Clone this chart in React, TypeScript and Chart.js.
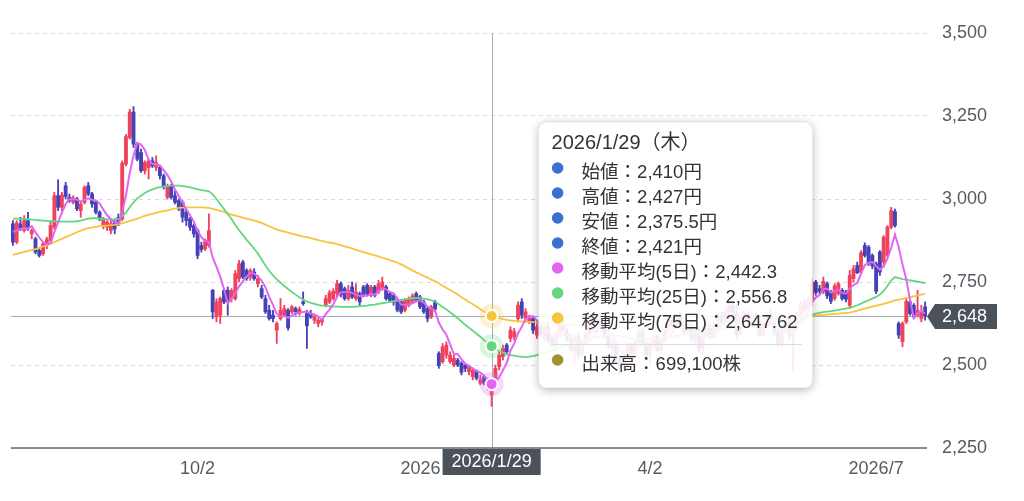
import React, { useEffect, useRef } from "react";
import { Chart, registerables } from "chart.js";

Chart.register(...registerables);

// Trading days (Tokyo market calendar) shown on the category axis
const tradingDays: [string, number[]][] = [
  ["2025/7", [22, 23, 24, 25, 28, 29, 30, 31]],
  ["2025/8", [1, 4, 5, 6, 7, 8, 12, 13, 14, 15, 18, 19, 20, 21, 22, 25, 26, 27, 28, 29]],
  ["2025/9", [1, 2, 3, 4, 5, 8, 9, 10, 11, 12, 16, 17, 18, 19, 22, 24, 25, 26, 29, 30]],
  ["2025/10", [1, 2, 3, 6, 7, 8, 9, 10, 14, 15, 16, 17, 20, 21, 22, 23, 24, 27, 28, 29, 30, 31]],
  ["2025/11", [4, 5, 6, 7, 10, 11, 12, 13, 14, 17, 18, 19, 20, 21, 25, 26, 27, 28]],
  ["2025/12", [1, 2, 3, 4, 5, 8, 9, 10, 11, 12, 15, 16, 17, 18, 19, 22, 23, 24, 25, 26, 29, 30]],
  ["2026/1", [5, 6, 7, 8, 9, 13, 14, 15, 16, 19, 20, 21, 22, 23, 26, 27, 28, 29, 30]],
  ["2026/2", [2, 3, 4, 5, 6, 9, 10, 12, 13, 16, 17, 18, 19, 20, 24, 25, 26, 27]],
  ["2026/3", [2, 3, 4, 5, 6, 9, 10, 11, 12, 13, 16, 17, 18, 19, 23, 24, 25, 26, 27, 30, 31]],
  ["2026/4", [1, 2, 3, 6, 7, 8, 9, 10, 13, 14, 15, 16, 17, 20, 21, 22, 23, 24, 27, 28, 30]],
  ["2026/5", [1, 7, 8, 11, 12, 13, 14, 15, 18, 19, 20, 21, 22, 25, 26, 27, 28, 29]],
  ["2026/6", [1, 2, 3, 4, 5, 8, 9, 10, 11, 12, 15, 16, 17, 18, 19, 22, 23, 24, 25, 26, 29, 30]],
  ["2026/7", [1, 2, 3, 6, 7, 8, 9, 10, 13, 14, 15, 16, 17, 21]],
];
const dates: string[] = tradingDays.flatMap(([m, ds]) => ds.map((d) => `${m}/${d}`));

const openPrices = [
  2925, 2870, 2925, 2905, 2935, 2895, 2880, 2845, 2835, 2860,
  2875, 2915, 3010, 2975, 3040, 3005, 2990, 3000, 2965, 2990,
  3040, 3015, 2990, 2960, 2920, 2915, 2905, 2930, 2945, 2940,
  3105, 3185, 3262, 3165, 3140, 3085, 3095, 3115, 3095, 3095,
  3070, 3005, 3040, 3010, 2995, 2990, 2960, 2940, 2920, 2905,
  2860, 2850, 2860, 2725, 2645, 2650, 2725, 2725, 2700, 2700,
  2760, 2810, 2785, 2765, 2780, 2745, 2730, 2700, 2665, 2650,
  2605, 2640, 2650, 2665, 2660, 2670, 2655, 2690, 2655, 2655,
  2635, 2625, 2630, 2680, 2690, 2700, 2715, 2745, 2730, 2700,
  2735, 2700, 2715, 2735, 2740, 2710, 2735, 2720, 2730, 2735,
  2715, 2710, 2695, 2690, 2665, 2680, 2690, 2715, 2705, 2690,
  2670, 2645, 2690, 2535, 2510, 2530, 2510, 2500, 2515, 2505,
  2500, 2480, 2465, 2480, 2445, 2465, 2455, 2410, 2440, 2495,
  2525, 2560, 2580, 2585, 2640, 2690, 2640, 2630, 2640, 2590,
  2620, 2580, 2615, 2580, 2560, 2590, 2625, 2600, 2575, 2540,
  2585, 2530, 2565, 2595, 2630, 2605, 2640, 2610, 2585, 2550,
  2565, 2520, 2490, 2530, 2560, 2530, 2570, 2600, 2560, 2530,
  2560, 2585, 2545, 2575, 2610, 2635, 2615, 2650, 2625, 2600,
  2620, 2575, 2600, 2550, 2590, 2615, 2585, 2620, 2645, 2630,
  2660, 2680, 2655, 2595, 2630, 2655, 2625, 2650, 2615, 2590,
  2625, 2655, 2630, 2600, 2565, 2600, 2640, 2590, 2612, 2650,
  2685, 2670, 2690, 2750, 2730, 2720, 2745, 2720, 2700, 2715,
  2725, 2720, 2680, 2760, 2800, 2780, 2860, 2855, 2830, 2805,
  2840, 2810, 2830, 2915, 2962, 2625, 2570, 2630, 2690, 2680,
  2650, 2640, 2675,
];

const highPrices = [
  2935, 2935, 2945, 2950, 2960, 2910, 2885, 2850, 2870, 2885,
  2930, 3020, 3058, 3020, 3050, 3015, 3010, 3005, 2990, 3040,
  3050, 3020, 2995, 2965, 2945, 2935, 2935, 2940, 2955, 3115,
  3195, 3270, 3278, 3170, 3150, 3115, 3120, 3125, 3130, 3100,
  3075, 3045, 3045, 3025, 3000, 2995, 2970, 2945, 2925, 2910,
  2870, 2880, 2955, 2728, 2700, 2705, 2730, 2735, 2730, 2785,
  2815, 2815, 2790, 2790, 2790, 2770, 2740, 2710, 2680, 2665,
  2630, 2700, 2680, 2670, 2680, 2675, 2675, 2720, 2665, 2665,
  2650, 2640, 2640, 2710, 2725, 2730, 2755, 2750, 2735, 2740,
  2750, 2745, 2720, 2740, 2745, 2740, 2740, 2755, 2765, 2740,
  2720, 2715, 2700, 2695, 2700, 2705, 2715, 2720, 2710, 2695,
  2675, 2680, 2695, 2540, 2565, 2570, 2540, 2530, 2520, 2510,
  2505, 2500, 2490, 2485, 2470, 2470, 2460, 2427, 2500, 2540,
  2560, 2565, 2615, 2610, 2690, 2700, 2670, 2650, 2645, 2625,
  2630, 2620, 2625, 2590, 2600, 2630, 2640, 2610, 2585, 2590,
  2595, 2575, 2600, 2640, 2645, 2650, 2650, 2615, 2590, 2575,
  2570, 2530, 2540, 2570, 2565, 2575, 2605, 2610, 2570, 2570,
  2590, 2590, 2580, 2615, 2640, 2645, 2655, 2660, 2630, 2630,
  2625, 2610, 2610, 2595, 2625, 2620, 2630, 2655, 2660, 2670,
  2690, 2690, 2680, 2640, 2665, 2660, 2660, 2655, 2625, 2630,
  2660, 2665, 2640, 2610, 2610, 2645, 2648, 2620, 2660, 2690,
  2695, 2705, 2760, 2755, 2740, 2765, 2750, 2725, 2745, 2750,
  2730, 2725, 2785, 2800, 2810, 2845, 2868, 2860, 2835, 2810,
  2845, 2890, 2920, 2975, 2970, 2630, 2630, 2700, 2695, 2685,
  2725, 2680, 2690,
];

const lowPrices = [
  2860, 2865, 2905, 2900, 2905, 2880, 2835, 2825, 2830, 2850,
  2870, 2910, 2965, 2965, 3000, 2990, 2985, 2965, 2945, 2985,
  3010, 2975, 2955, 2935, 2910, 2905, 2895, 2895, 2920, 2935,
  3100, 3180, 3155, 3115, 3080, 3075, 3060, 3095, 3085, 3060,
  3030, 3000, 3000, 2985, 2965, 2930, 2920, 2905, 2885, 2820,
  2840, 2845, 2855, 2640, 2630, 2625, 2685, 2650, 2690, 2695,
  2750, 2760, 2755, 2755, 2755, 2735, 2700, 2655, 2635, 2630,
  2565, 2635, 2645, 2605, 2655, 2650, 2650, 2680, 2550, 2640,
  2625, 2615, 2620, 2675, 2685, 2695, 2705, 2705, 2695, 2695,
  2700, 2695, 2680, 2705, 2710, 2705, 2705, 2715, 2725, 2695,
  2690, 2680, 2660, 2655, 2660, 2675, 2685, 2690, 2670, 2655,
  2630, 2640, 2660, 2490, 2505, 2520, 2505, 2495, 2495, 2470,
  2480, 2470, 2455, 2455, 2440, 2440, 2425, 2375.5, 2430, 2485,
  2515, 2530, 2570, 2575, 2630, 2640, 2630, 2625, 2595, 2580,
  2585, 2570, 2565, 2555, 2550, 2585, 2600, 2570, 2540, 2510,
  2520, 2525, 2560, 2590, 2600, 2600, 2610, 2580, 2550, 2520,
  2510, 2470, 2480, 2525, 2520, 2525, 2565, 2560, 2520, 2500,
  2555, 2540, 2535, 2570, 2600, 2610, 2610, 2620, 2590, 2595,
  2570, 2560, 2540, 2530, 2585, 2580, 2580, 2615, 2620, 2625,
  2650, 2640, 2580, 2590, 2625, 2620, 2615, 2610, 2585, 2585,
  2620, 2625, 2590, 2555, 2555, 2595, 2580, 2480, 2605, 2645,
  2660, 2665, 2680, 2710, 2715, 2715, 2700, 2685, 2695, 2710,
  2695, 2690, 2670, 2750, 2775, 2775, 2825, 2800, 2790, 2715,
  2770, 2795, 2825, 2910, 2915, 2580, 2555, 2625, 2650, 2640,
  2645, 2630, 2635,
];

const closePrices = [
  2870, 2928, 2910, 2935, 2912, 2905, 2840, 2830, 2865, 2878,
  2920, 3010, 2975, 3012, 3008, 2995, 3003, 2970, 2985, 3035,
  3015, 2985, 2960, 2940, 2940, 2930, 2925, 2910, 2925, 3108,
  3188, 3262, 3165, 3120, 3085, 3110, 3115, 3100, 3110, 3070,
  3040, 3040, 3005, 2990, 2970, 2945, 2935, 2915, 2895, 2830,
  2848, 2875, 2905, 2660, 2690, 2700, 2690, 2690, 2725, 2775,
  2805, 2765, 2760, 2785, 2760, 2760, 2705, 2660, 2640, 2640,
  2625, 2665, 2670, 2612, 2675, 2660, 2668, 2685, 2618, 2645,
  2645, 2635, 2638, 2700, 2718, 2722, 2745, 2712, 2700, 2725,
  2705, 2720, 2690, 2710, 2715, 2735, 2710, 2745, 2750, 2700,
  2695, 2690, 2665, 2660, 2695, 2700, 2708, 2695, 2675, 2660,
  2640, 2675, 2668, 2498, 2555, 2560, 2530, 2520, 2500, 2478,
  2490, 2495, 2485, 2460, 2456, 2445, 2430, 2421, 2490, 2530,
  2550, 2540, 2605, 2600, 2680, 2650, 2660, 2640, 2605, 2615,
  2590, 2610, 2575, 2560, 2590, 2620, 2605, 2578, 2548, 2580,
  2530, 2565, 2592, 2630, 2608, 2640, 2615, 2585, 2555, 2568,
  2520, 2490, 2530, 2560, 2528, 2570, 2598, 2565, 2530, 2560,
  2582, 2545, 2575, 2608, 2632, 2618, 2648, 2625, 2598, 2622,
  2578, 2600, 2550, 2588, 2615, 2585, 2622, 2645, 2628, 2660,
  2680, 2650, 2592, 2630, 2655, 2628, 2650, 2618, 2590, 2622,
  2652, 2632, 2598, 2565, 2602, 2638, 2590, 2612, 2650, 2682,
  2668, 2698, 2750, 2718, 2722, 2752, 2708, 2692, 2738, 2745,
  2700, 2698, 2770, 2790, 2778, 2838, 2830, 2805, 2798, 2722,
  2780, 2885, 2915, 2965, 2920, 2590, 2625, 2692, 2655, 2645,
  2665, 2660, 2648,
];

// 移動平均(5日)
const ma5 = [
  2901, 2905, 2910, 2912, 2911, 2918, 2900, 2884, 2870, 2864,
  2867, 2901, 2930, 2959, 2985, 3000, 2999, 2998, 2992, 2998,
  3002, 2998, 2996, 2987, 2968, 2951, 2939, 2929, 2926, 2960,
  3011, 3079, 3130, 3169, 3164, 3148, 3119, 3106, 3104, 3101,
  3087, 3072, 3053, 3029, 3009, 2990, 2969, 2951, 2932, 2904,
  2885, 2873, 2871, 2824, 2796, 2766, 2729, 2686, 2699, 2716,
  2737, 2752, 2766, 2778, 2775, 2766, 2754, 2734, 2705, 2681,
  2654, 2646, 2648, 2642, 2649, 2656, 2657, 2660, 2661, 2655,
  2652, 2646, 2636, 2653, 2667, 2683, 2705, 2719, 2719, 2721,
  2717, 2712, 2708, 2710, 2708, 2714, 2712, 2723, 2731, 2728,
  2720, 2716, 2700, 2682, 2681, 2682, 2686, 2692, 2695, 2688,
  2676, 2669, 2664, 2628, 2607, 2591, 2562, 2533, 2533, 2518,
  2504, 2497, 2490, 2482, 2477, 2468, 2455, 2442.3, 2448, 2463,
  2484, 2506, 2543, 2565, 2595, 2615, 2639, 2646, 2647, 2634,
  2622, 2612, 2599, 2590, 2585, 2591, 2590, 2591, 2588, 2586,
  2568, 2560, 2563, 2579, 2585, 2607, 2617, 2616, 2601, 2593,
  2569, 2544, 2533, 2534, 2526, 2536, 2557, 2564, 2558, 2565,
  2567, 2556, 2558, 2574, 2588, 2596, 2616, 2626, 2624, 2622,
  2614, 2605, 2590, 2588, 2586, 2588, 2592, 2611, 2619, 2628,
  2647, 2653, 2642, 2642, 2641, 2631, 2631, 2636, 2628, 2622,
  2626, 2623, 2619, 2614, 2610, 2607, 2599, 2601, 2618, 2634,
  2640, 2662, 2690, 2703, 2711, 2728, 2730, 2718, 2722, 2727,
  2717, 2715, 2730, 2741, 2747, 2775, 2801, 2808, 2810, 2799,
  2787, 2798, 2820, 2853, 2893, 2855, 2803, 2758, 2696, 2641,
  2656, 2663, 2655,
];

// 移動平均(25日)
const ma25 = [
  2941, 2941, 2940, 2940, 2939, 2938, 2937, 2936, 2935, 2934,
  2933, 2933, 2932, 2932, 2932, 2932, 2932, 2933, 2935, 2938,
  2941, 2942, 2942, 2941, 2940, 2939, 2938, 2938, 2940, 2948,
  2959, 2975, 2990, 3002, 3010, 3018, 3024, 3029, 3033, 3036,
  3038, 3039, 3040, 3040, 3040, 3039, 3037, 3035, 3032, 3029,
  3027, 3025, 3023, 3014, 3000, 2985, 2970, 2955, 2940, 2922,
  2906, 2892, 2877, 2864, 2850, 2836, 2818, 2800, 2784, 2770,
  2758, 2748, 2738, 2729, 2720, 2712, 2704, 2697, 2691, 2687,
  2684, 2681, 2679, 2678, 2677, 2676, 2676, 2675, 2675, 2675,
  2675, 2676, 2677, 2678, 2679, 2681, 2682, 2684, 2686, 2688,
  2690, 2692, 2694, 2696, 2698, 2700, 2701, 2702, 2701, 2700,
  2698, 2695, 2691, 2683, 2675, 2667, 2659, 2650, 2641, 2631,
  2621, 2612, 2603, 2594, 2585, 2575, 2566, 2556.8, 2549, 2542,
  2537, 2533, 2530, 2528, 2526, 2525, 2524, 2525, 2527, 2530,
  2534, 2537, 2540, 2544, 2548, 2552, 2556, 2560, 2563, 2566,
  2569, 2572, 2575, 2578, 2581, 2584, 2586, 2588, 2589, 2589,
  2588, 2587, 2585, 2583, 2581, 2579, 2578, 2577, 2577, 2577,
  2578, 2579, 2580, 2582, 2584, 2586, 2588, 2590, 2592, 2594,
  2595, 2596, 2597, 2598, 2599, 2600, 2602, 2604, 2606, 2608,
  2610, 2612, 2614, 2616, 2618, 2620, 2622, 2624, 2625, 2626,
  2627, 2628, 2629, 2630, 2631, 2632, 2634, 2636, 2638, 2641,
  2644, 2648, 2652, 2655, 2657, 2659, 2661, 2662, 2664, 2666,
  2668, 2670, 2672, 2676, 2680, 2685, 2690, 2695, 2700, 2705,
  2712, 2723, 2738, 2755, 2765, 2762, 2759, 2757, 2755, 2753,
  2751, 2749, 2747,
];

// 移動平均(75日)
const ma75 = [
  2832, 2835, 2838, 2841, 2844, 2846, 2849, 2853, 2857, 2861,
  2865, 2870, 2875, 2880, 2885, 2890, 2895, 2900, 2905, 2909,
  2912, 2914, 2916, 2918, 2919, 2920, 2921, 2922, 2924, 2927,
  2930, 2934, 2937, 2941, 2945, 2949, 2952, 2955, 2958, 2961,
  2964, 2966, 2969, 2971, 2973, 2974, 2975, 2975, 2975, 2975,
  2975, 2974, 2973, 2970, 2967, 2964, 2961, 2957, 2953, 2950,
  2947, 2944, 2941, 2938, 2935, 2932, 2928, 2923, 2918, 2913,
  2908, 2905, 2902, 2899, 2896, 2893, 2890, 2887, 2885, 2882,
  2879, 2876, 2874, 2871, 2869, 2867, 2864, 2861, 2857, 2854,
  2851, 2847, 2844, 2840, 2837, 2833, 2830, 2827, 2823, 2820,
  2816, 2812, 2808, 2803, 2797, 2791, 2785, 2779, 2774, 2768,
  2763, 2757, 2752, 2746, 2739, 2732, 2726, 2719, 2712, 2704,
  2697, 2690, 2683, 2676, 2668, 2661, 2654, 2647.62, 2644, 2641,
  2638, 2636, 2634, 2633, 2632, 2631, 2630, 2630, 2629, 2629,
  2628, 2627, 2627, 2626, 2625, 2624, 2623, 2622, 2621, 2620,
  2620, 2619, 2618, 2618, 2617, 2617, 2616, 2616, 2615, 2615,
  2614, 2614, 2613, 2613, 2612, 2612, 2612, 2612, 2612, 2612,
  2612, 2612, 2612, 2612, 2612, 2612, 2613, 2613, 2613, 2613,
  2613, 2614, 2614, 2614, 2615, 2615, 2616, 2617, 2618, 2619,
  2620, 2621, 2622, 2623, 2624, 2625, 2627, 2628, 2630, 2632,
  2633, 2635, 2637, 2639, 2640, 2641, 2642, 2643, 2644, 2645,
  2646, 2647, 2648, 2649, 2650, 2651, 2652, 2653, 2654, 2655,
  2656, 2657, 2658, 2661, 2664, 2667, 2670, 2673, 2676, 2679,
  2681, 2684, 2687, 2691, 2695, 2697, 2699, 2702, 2704, 2707,
  2710, 2712, 2714,
];

const tickDates = ["2025/10/2", "2026/1/5", "2026/4/2", "2026/7/1"];
const tickTexts = ["10/2", "2026", "4/2", "2026/7"];
const yTickValues = [2250, 2500, 2750, 3000, 3250, 3500];
const hoverDate = "2026/1/29";
const hoverVolume = 699100;

const UP = "#ef425c";
const DOWN = "#4343b7";
const C5 = "#e164f2";
const C25 = "#64d67f";
const C75 = "#f8c43e";
const OHLC_DOT = "#3a70cf";
const VOL_DOT = "#a09431";
const DARK = "#4b525a";
const FONT = 'Arial, "Liberation Sans", Helvetica, sans-serif';
const JP = '"Liberation Sans", "Noto Sans CJK JP", sans-serif';

const fmt = (v: number) => v.toLocaleString("en-US", { maximumFractionDigits: 2 });

function rgba(hex: string, a: number) {
  const n = parseInt(hex.slice(1), 16);
  return `rgba(${(n >> 16) & 255},${(n >> 8) & 255},${n & 255},${a})`;
}

function rrect(ctx: CanvasRenderingContext2D, x: number, y: number, w: number, h: number, r: number) {
  ctx.moveTo(x + r, y);
  ctx.lineTo(x + w - r, y);
  ctx.arcTo(x + w, y, x + w, y + r, r);
  ctx.lineTo(x + w, y + h - r);
  ctx.arcTo(x + w, y + h, x + w - r, y + h, r);
  ctx.lineTo(x + r, y + h);
  ctx.arcTo(x, y + h, x, y + h - r, r);
  ctx.lineTo(x, y + r);
  ctx.arcTo(x, y, x + r, y, r);
  ctx.closePath();
}

const overlayPlugin = {
  id: "overlay",
  beforeDatasetsDraw(chart: any) {
    const { ctx, chartArea: a, scales } = chart;
    const hi = dates.indexOf(hoverDate);
    const hx = Math.round(scales.x.getPixelForValue(hi)) + 0.5;
    const py = Math.round(scales.y.getPixelForValue(closePrices[closePrices.length - 1])) + 0.5;
    ctx.save();
    ctx.strokeStyle = "#a4aeb9";
    ctx.lineWidth = 1;
    ctx.beginPath();
    ctx.moveTo(a.left, py);
    ctx.lineTo(a.right, py);
    ctx.moveTo(hx, a.top);
    ctx.lineTo(hx, a.bottom);
    ctx.stroke();
    ctx.restore();
  },
  afterDraw(chart: any) {
    const { ctx, chartArea: a, scales } = chart;
    const xs = scales.x;
    const ys = scales.y;
    const hi = dates.indexOf(hoverDate);
    const hx = xs.getPixelForValue(hi);
    ctx.save();

    // x axis line
    ctx.strokeStyle = "#636970";
    ctx.lineWidth = 1.5;
    ctx.beginPath();
    ctx.moveTo(a.left, a.bottom);
    ctx.lineTo(a.right, a.bottom);
    ctx.stroke();

    // highlighted points on the moving averages
    const marks: [number, string][] = [
      [ma75[hi], C75],
      [ma25[hi], C25],
      [ma5[hi], C5],
    ];
    marks.forEach(([v, c]) => {
      const y = ys.getPixelForValue(v);
      ctx.fillStyle = rgba(c, 0.25);
      ctx.beginPath();
      ctx.arc(hx, y, 12, 0, Math.PI * 2);
      ctx.fill();
      ctx.fillStyle = c;
      ctx.strokeStyle = "#ffffff";
      ctx.lineWidth = 2;
      ctx.beginPath();
      ctx.arc(hx, y, 6, 0, Math.PI * 2);
      ctx.fill();
      ctx.stroke();
    });

    // date pointer box on the x axis
    ctx.font = `18px ${FONT}`;
    const dw = ctx.measureText(hoverDate).width + 18;
    const bl = hx - dw / 2;
    const br = hx + dw / 2;
    ctx.fillStyle = DARK;
    ctx.fillRect(bl, a.bottom + 1, dw, 26);
    ctx.fillStyle = "#ffffff";
    ctx.textAlign = "center";
    ctx.textBaseline = "middle";
    ctx.fillText(hoverDate, hx, a.bottom + 14.5);

    // x tick labels (pushed aside by the pointer box)
    ctx.fillStyle = "#555b61";
    tickDates.forEach((d, k) => {
      const i = dates.indexOf(d);
      if (i < 0) return;
      const t = tickTexts[k];
      const w = ctx.measureText(t).width;
      let cx = xs.getPixelForValue(i);
      if (cx + w / 2 > bl - 2 && cx - w / 2 < br + 2) {
        cx = cx < hx ? bl - 2 - w / 2 : br + 2 + w / 2;
      }
      ctx.fillText(t, cx, a.bottom + 21);
    });

    // last price label
    const last = closePrices[closePrices.length - 1];
    const py = Math.round(ys.getPixelForValue(last)) + 0.5;
    ctx.fillStyle = DARK;
    ctx.beginPath();
    ctx.moveTo(a.right, py);
    ctx.lineTo(a.right + 8, py - 12.5);
    ctx.lineTo(a.right + 70, py - 12.5);
    ctx.lineTo(a.right + 70, py + 12.5);
    ctx.lineTo(a.right + 8, py + 12.5);
    ctx.closePath();
    ctx.fill();
    ctx.fillStyle = "#ffffff";
    ctx.textAlign = "left";
    ctx.fillText(fmt(last), a.right + 15, py + 1);

    // tooltip box
    const tx = hx + 47;
    const ty = a.top + 89;
    const tw = 274;
    const th = 266;
    ctx.save();
    ctx.beginPath();
    ctx.rect(0, 0, chart.width, chart.height);
    rrect(ctx, tx, ty, tw, th, 8);
    ctx.clip("evenodd");
    ctx.shadowColor = "rgba(0,0,0,0.28)";
    ctx.shadowBlur = 10;
    ctx.shadowOffsetY = 2;
    ctx.fillStyle = "#ffffff";
    ctx.beginPath();
    rrect(ctx, tx, ty, tw, th, 8);
    ctx.fill();
    ctx.restore();
    ctx.fillStyle = "rgba(255,255,255,0.9)";
    ctx.beginPath();
    rrect(ctx, tx, ty, tw, th, 8);
    ctx.fill();
    ctx.strokeStyle = "rgba(0,0,0,0.08)";
    ctx.lineWidth = 1;
    ctx.stroke();

    const [yy, mm, dd] = hoverDate.split("/").map(Number);
    const wd = "日月火水木金土"[new Date(yy, mm - 1, dd).getDay()];
    ctx.fillStyle = "#333333";
    ctx.textAlign = "left";
    ctx.textBaseline = "middle";
    ctx.font = `20px ${JP}`;
    ctx.fillText(`${hoverDate}（${wd}）`, tx + 13, ty + 21);

    const rows: [string, string, string][] = [
      ["始値", fmt(openPrices[hi]) + "円", OHLC_DOT],
      ["高値", fmt(highPrices[hi]) + "円", OHLC_DOT],
      ["安値", fmt(lowPrices[hi]) + "円", OHLC_DOT],
      ["終値", fmt(closePrices[hi]) + "円", OHLC_DOT],
      ["移動平均(5日)", fmt(ma5[hi]), C5],
      ["移動平均(25日)", fmt(ma25[hi]), C25],
      ["移動平均(75日)", fmt(ma75[hi]), C75],
    ];
    ctx.font = `18.5px ${JP}`;
    const drawRow = (label: string, value: string, color: string, y: number) => {
      ctx.fillStyle = color;
      ctx.beginPath();
      ctx.arc(tx + 19, y - 5, 5.8, 0, Math.PI * 2);
      ctx.fill();
      ctx.fillStyle = "#333333";
      ctx.fillText(`${label}：${value}`, tx + 43, y);
    };
    rows.forEach(([l, v, c], k) => drawRow(l, v, c, ty + 51 + k * 25));

    ctx.strokeStyle = "#dcdcdc";
    ctx.lineWidth = 1;
    ctx.beginPath();
    ctx.moveTo(tx + 13, Math.round(ty + 222) + 0.5);
    ctx.lineTo(tx + tw - 11, Math.round(ty + 222) + 0.5);
    ctx.stroke();
    drawRow("出来高", fmt(hoverVolume) + "株", VOL_DOT, ty + 243);

    ctx.restore();
  },
};

export default function App() {
  const canvasRef = useRef<HTMLCanvasElement>(null);

  useEffect(() => {
    const canvas = canvasRef.current;
    if (!canvas) return;
    const colors = closePrices.map((c, i) => (c >= openPrices[i] ? UP : DOWN));
    const chart = new Chart(canvas, {
      type: "bar",
      data: {
        labels: dates,
        datasets: [
          {
            type: "line",
            label: "MA5",
            data: ma5,
            borderColor: C5,
            borderWidth: 2,
            pointRadius: 0,
            order: 0,
          },
          {
            type: "line",
            label: "MA25",
            data: ma25,
            borderColor: C25,
            borderWidth: 1.8,
            pointRadius: 0,
            order: 1,
          },
          {
            type: "line",
            label: "MA75",
            data: ma75,
            borderColor: C75,
            borderWidth: 1.8,
            pointRadius: 0,
            order: 2,
          },
          {
            type: "bar",
            label: "body",
            data: openPrices.map((o, i) => [o, closePrices[i]]),
            backgroundColor: colors,
            barThickness: 3.2,
            minBarLength: 1,
            grouped: false,
            order: 3,
          },
          {
            type: "bar",
            label: "wick",
            data: lowPrices.map((l, i) => [l, highPrices[i]]),
            backgroundColor: colors,
            barThickness: 1.2,
            grouped: false,
            order: 4,
          },
        ] as any,
      },
      options: {
        animation: false,
        responsive: true,
        maintainAspectRatio: false,
        events: [],
        layout: { padding: { left: 11, top: 33, right: 0, bottom: 0 } },
        plugins: {
          legend: { display: false },
          tooltip: { enabled: false },
        },
        scales: {
          x: {
            type: "category",
            offset: true,
            grid: { display: false },
            border: { display: false },
            ticks: { display: false },
            afterFit: (scale: any) => {
              scale.height = 53;
            },
          },
          y: {
            position: "right",
            min: yTickValues[0],
            max: yTickValues[yTickValues.length - 1],
            afterBuildTicks: (scale: any) => {
              scale.ticks = yTickValues.map((v) => ({ value: v }));
            },
            grid: { color: "#d9d9d9", lineWidth: 1, drawTicks: false },
            border: { display: false, dash: [4, 4] },
            ticks: {
              padding: 15,
              color: "#555b61",
              font: { size: 18, family: FONT },
              callback: (v: any) => Number(v).toLocaleString("en-US"),
            },
            afterFit: (scale: any) => {
              scale.width = 97;
            },
          },
        },
      } as any,
      plugins: [overlayPlugin],
    });
    return () => chart.destroy();
  }, []);

  return (
    <div
      style={{
        position: "fixed",
        left: 0,
        top: 0,
        width: 1024,
        height: 501,
        background: "#ffffff",
      }}
    >
      <canvas ref={canvasRef} />
    </div>
  );
}
